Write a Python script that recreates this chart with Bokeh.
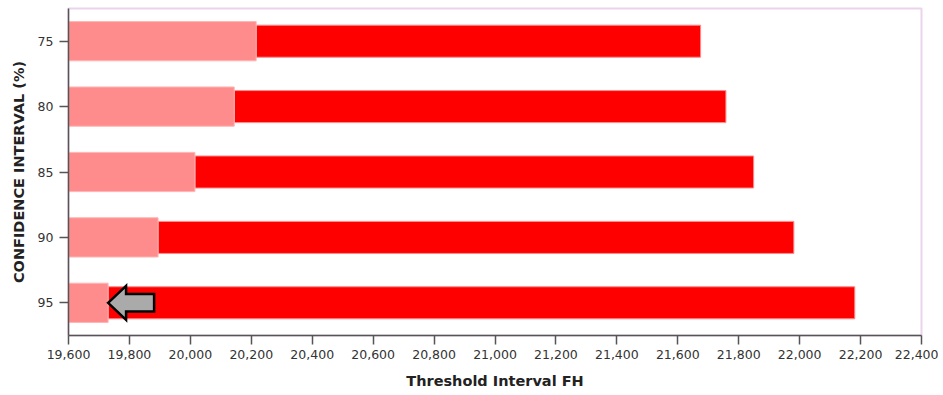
from bokeh.plotting import figure
from bokeh.models import FactorRange, Range1d, NumeralTickFormatter, FixedTicker
from bokeh.embed import file_html
from bokeh.resources import INLINE

# data
categories = ["75", "80", "85", "90", "95"]
lower_values = [20216, 20144, 20015, 19894, 19730]
upper_values = [21675, 21758, 21849, 21981, 22181]
x_start = 19600
x_ticks = [19600, 19800, 20000, 20200, 20400, 20600, 20800, 21000, 21200,
           21400, 21600, 21800, 22000, 22200, 22400]
arrow_category = "95"

FONT = "DejaVu Sans"

p = figure(
    width=938, height=395,
    frame_width=853, frame_height=327,
    y_range=FactorRange(factors=list(reversed(categories)), range_padding=0),
    x_range=Range1d(19600, 22400),
    output_backend="svg", toolbar_location=None,
    min_border_left=68, min_border_top=8, min_border_right=17, min_border_bottom=60,
)
p.background_fill_color = "white"
p.border_fill_color = "white"
p.outline_line_color = "#ead4ec"
p.outline_line_width = 2
p.xgrid.visible = False
p.ygrid.visible = False

# red bars (lower bound to upper bound)
p.hbar(y=categories, left=lower_values, right=upper_values, height=0.49,
       fill_color="#ff0000", line_color="#ff8c8c", line_width=1)
# pink bars (start to lower bound)
p.hbar(y=categories, left=[x_start] * len(categories), right=lower_values, height=0.6,
       fill_color="#ff8c8c", line_color="#ffb4b4", line_width=1)

# block arrow pointing at the lower bound of the arrow category
idx = categories.index(arrow_category)
tip = lower_values[idx]
head_len = 59
tail_len = 151
head_h = 0.26
body_h = 0.133
ax = [tip, tip + head_len, tip + head_len, tip + tail_len, tip + tail_len, tip + head_len, tip + head_len]
ay = [(arrow_category, 0), (arrow_category, head_h), (arrow_category, body_h),
      (arrow_category, body_h), (arrow_category, -body_h), (arrow_category, -body_h),
      (arrow_category, -head_h)]
p.patch(x=ax, y=ay, fill_color="#aaaaaa", line_color="black", line_width=2.5,
        line_join="miter")

# axes
p.xaxis.ticker = FixedTicker(ticks=x_ticks)
p.xaxis.formatter = NumeralTickFormatter(format="0,0")
p.xaxis.minor_tick_line_color = None
for ax_ in (p.xaxis[0], p.yaxis[0]):
    ax_.axis_line_color = "#555555"
    ax_.axis_line_width = 1.5
    ax_.major_tick_line_color = "#555555"
    ax_.major_tick_line_width = 1.5
    ax_.major_tick_out = 9
    ax_.major_tick_in = 0
    ax_.major_label_text_font = FONT
    ax_.major_label_text_font_size = "12.5px"
    ax_.major_label_text_color = "#333333"
    ax_.axis_label_text_font = FONT
    ax_.axis_label_text_font_size = "14.5px"
    ax_.axis_label_text_font_style = "bold"
    ax_.axis_label_text_color = "#222222"

p.xaxis.axis_label = "Threshold Interval FH"
p.xaxis.major_label_standoff = 5
p.xaxis.axis_label_standoff = 11
p.yaxis.axis_label = "CONFIDENCE INTERVAL (%)"
p.yaxis.major_label_standoff = 6
p.yaxis.axis_label_standoff = 8

open("out.html", "w").write(file_html(p, INLINE))
